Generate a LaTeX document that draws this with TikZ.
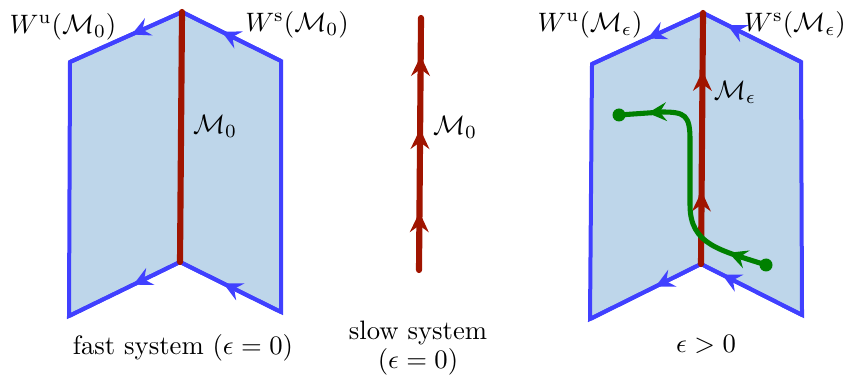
\documentclass[tikz,border=0pt]{standalone}
\usetikzlibrary{arrows.meta,decorations.markings}
\definecolor{sheetblue}{RGB}{64,64,255}
\definecolor{sheetfill}{RGB}{190,214,234}
\definecolor{slowred}{RGB}{160,20,0}
\definecolor{orbitgreen}{RGB}{0,128,0}
\begin{document}
\begin{tikzpicture}[
  x=0.375pt, y=-0.375pt,
  sheet/.style={fill=sheetfill, draw=sheetblue, line width=1.5pt},
  sedge/.style={draw=sheetblue, line width=1.5pt},
  slow/.style={draw=slowred, line width=2.3pt, line cap=round},
  orbit/.style={draw=orbitgreen, line width=1.9pt},
  tipat/.style={postaction={decorate, decoration={markings,
      mark=at position #1 with {\arrow{Stealth[length=7pt,width=7pt,inset=2.5pt]}}}}},
  bigtipat/.style={postaction={decorate, decoration={markings,
      mark=at position #1 with {\arrow{Stealth[length=7.5pt,width=7pt,inset=2.5pt]}}}}},
  lbl/.style={inner sep=1pt}
]
  \useasboundingbox (0,0) rectangle (846,376);
  % linke Flaeche (schnelles System)
  \coordinate (a0) at (182,12);  \coordinate (b0) at (180,262);
  \coordinate (l0) at (70,62);   \coordinate (ll0) at (69,316);
  \coordinate (r0) at (281,61);  \coordinate (rr0) at (281,312);
  \draw[sheet] (a0) -- (l0) -- (ll0) -- (b0) -- (rr0) -- (r0) -- cycle;
  \draw[sedge, tipat=0.45] (a0) -- (l0);
  \draw[sedge, tipat=0.6] (r0) -- (a0);
  \draw[sedge, tipat=0.42] (b0) -- (ll0);
  \draw[sedge, tipat=0.57] (rr0) -- (b0);
  \draw[slow] (b0) -- (a0);
  % mittlere Linie (langsames System)
  \coordinate (m0) at (419,270); \coordinate (m1) at (421,18);
  \draw[slow, bigtipat=0.23, bigtipat=0.56, bigtipat=0.85] (m0) -- (m1);
  % rechte Flaeche (epsilon > 0)
  \coordinate (a1) at (703,13);  \coordinate (b1) at (701,264);
  \coordinate (l1) at (592,64);  \coordinate (ll1) at (590,319);
  \coordinate (r1) at (801,62);  \coordinate (rr1) at (802,315);
  \draw[sheet] (a1) -- (l1) -- (ll1) -- (b1) -- (rr1) -- (r1) -- cycle;
  \draw[sedge, tipat=0.5] (a1) -- (l1);
  \draw[sedge, tipat=0.75] (r1) -- (a1);
  \draw[sedge, tipat=0.41] (b1) -- (ll1);
  \draw[sedge, tipat=0.79] (rr1) -- (b1);
  \draw[slow, bigtipat=0.29, bigtipat=0.77] (b1) -- (a1);
  % Trajektorie
  \coordinate (o0) at (766,265); \coordinate (o1) at (619,115);
  \draw[orbit, tipat=0.15, tipat=0.89] (o0) .. controls (720,250) and (690,245) .. (690,205)
    -- (690,140) .. controls (690,115) and (685,112) .. (662,112) -- (o1);
  \fill[orbitgreen] (o0) circle (6.5);
  \fill[orbitgreen] (o1) circle (6.5);
  % Beschriftungen
  \node[lbl] (wu0) at (63,27)  {$W^{\mathrm{u}}(\mathcal{M}_0)$};
  \node[lbl] (ws0) at (297,25) {$W^{\mathrm{s}}(\mathcal{M}_0)$};
  \node[lbl] (mm0) at (215,126) {$\mathcal{M}_0$};
  \node[lbl] (mm1) at (455,127) {$\mathcal{M}_0$};
  \node[lbl] (wu1) at (590,25) {$W^{\mathrm{u}}(\mathcal{M}_\epsilon)$};
  \node[lbl] (ws1) at (795,25) {$W^{\mathrm{s}}(\mathcal{M}_\epsilon)$};
  \node[lbl] (mm2) at (735,92) {$\mathcal{M}_\epsilon$};
  \node[lbl] (t0) at (183,348) {fast system ($\epsilon=0$)};
  \node[lbl] (t1) at (418,333) {slow system};
  \node[lbl] (t2) at (418,362) {($\epsilon=0$)};
  \node[lbl] (t3) at (706,344) {$\epsilon>0$};
\end{tikzpicture}
\end{document}
